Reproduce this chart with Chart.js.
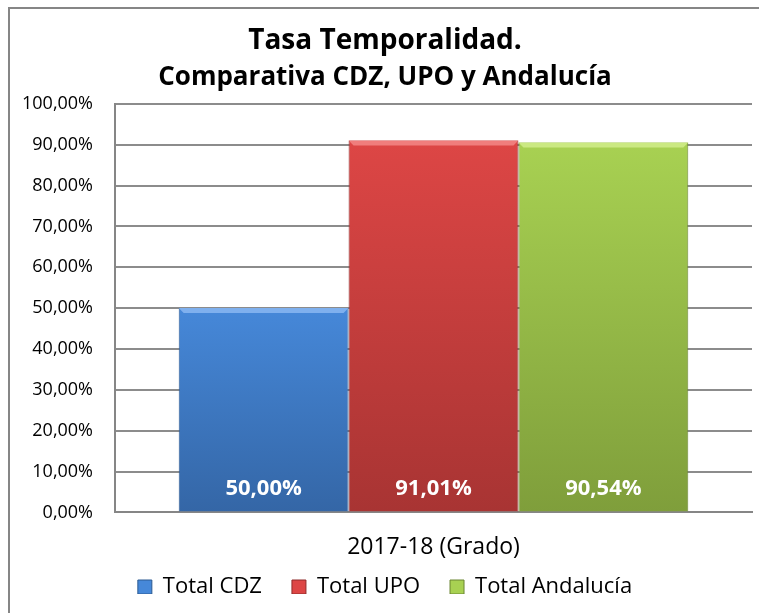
<!DOCTYPE html>
<html>
<head>
<meta charset="utf-8">
<script src="https://cdn.jsdelivr.net/npm/chart.js@4.4.1/dist/chart.umd.min.js"></script>
<style>
  html, body { margin: 0; background: #fff; overflow: hidden; }
  #chart { display: block; }
</style>
</head>
<body>
<canvas id="chart" width="759" height="613"></canvas>
<script>
const categories = ["2017-18 (Grado)"];
const seriesNames = ["Total CDZ", "Total UPO", "Total Andalucía"];
const seriesValues = [[50.00], [91.01], [90.54]];
const tickValues = [0, 10, 20, 30, 40, 50, 60, 70, 80, 90, 100];

const topColors = ["#4688d9", "#dd4645", "#a8d152"];
const bottomColors = ["#3466a6", "#a83433", "#7f9e3b"];
const edgeColors = ["#2c5a92", "#8f2b2a", "#6b8632"];
const bevelColors = ["#7fb0ee", "#f07d7c", "#cbe982"];

const FONT = "'Open Sans', 'Noto Sans', sans-serif";

const fmt = (v) => v.toFixed(2).replace(".", ",") + "%";

const barFill = (i) => (ctx) => {
  const chart = ctx.chart;
  if (ctx.type !== "data" || !chart.chartArea) return topColors[i];
  const y = chart.scales.y;
  const g = chart.ctx.createLinearGradient(0, y.getPixelForValue(ctx.raw), 0, y.getPixelForValue(0));
  g.addColorStop(0, topColors[i]);
  g.addColorStop(1, bottomColors[i]);
  return g;
};

// outer chart frame (left and top edges only, as in the picture)
const frame = {
  id: "frame",
  beforeDraw(chart) {
    const c = chart.ctx;
    c.save();
    c.strokeStyle = "#868686";
    c.lineWidth = 2;
    c.beginPath();
    c.moveTo(9, chart.height);
    c.lineTo(9, 8);
    c.lineTo(chart.width, 8);
    c.stroke();
    c.restore();
  }
};

// legend sits a bit closer to the category label
const legendNudge = {
  id: "legendNudge",
  afterLayout(chart) {
    chart.legend.top -= 36;
    chart.legend.bottom -= 36;
  }
};

const barDecor = {
  id: "barDecor",
  afterDatasetsDraw(chart) {
    const c = chart.ctx;
    chart.data.datasets.forEach((ds, i) => {
      chart.getDatasetMeta(i).data.forEach((bar, j) => {
        const left = bar.x - bar.width / 2;
        const right = bar.x + bar.width / 2;
        c.save();
        c.fillStyle = bevelColors[i];
        c.beginPath();
        c.moveTo(left, bar.y);
        c.lineTo(right, bar.y);
        c.lineTo(right - 5, bar.y + 5);
        c.lineTo(left + 5, bar.y + 5);
        c.closePath();
        c.fill();
        c.fillStyle = "#ffffff";
        c.font = "bold 22px " + FONT;
        c.textAlign = "center";
        c.textBaseline = "middle";
        c.fillText(fmt(ds.data[j]), bar.x, bar.base - 23);
        c.restore();
      });
    });
  }
};

new Chart(document.getElementById("chart"), {
  type: "bar",
  data: {
    labels: categories,
    datasets: seriesNames.map((name, i) => ({
      label: name,
      data: seriesValues[i],
      backgroundColor: barFill(i),
      borderColor: edgeColors[i],
      borderWidth: 1,
      categoryPercentage: 0.8,
      barPercentage: 1.0
    }))
  },
  options: {
    responsive: false,
    animation: false,
    layout: { padding: { left: 18, right: 7, top: 0, bottom: -17 } },
    plugins: {
      title: {
        display: true,
        text: "Tasa Temporalidad.",
        color: "#000",
        font: { family: FONT, size: 28, weight: "bold" },
        padding: { top: 24, bottom: 4 }
      },
      subtitle: {
        display: true,
        text: "Comparativa CDZ, UPO y Andalucía",
        color: "#000",
        font: { family: FONT, size: 26, weight: "bold" },
        padding: { top: 0, bottom: 11 }
      },
      legend: {
        position: "bottom",
        maxHeight: 48,
        labels: {
          color: "#000",
          font: { family: FONT, size: 22 },
          boxWidth: 14,
          boxHeight: 14,
          padding: 30,
          generateLabels(chart) {
            return chart.data.datasets.map((ds, i) => ({
              text: ds.label,
              fillStyle: topColors[i],
              strokeStyle: edgeColors[i],
              lineWidth: 1,
              datasetIndex: i
            }));
          }
        }
      },
      tooltip: { enabled: false }
    },
    scales: {
      x: {
        grid: { display: false, drawTicks: false },
        border: { display: true, color: "#868686", width: 2 },
        ticks: { color: "#000", font: { family: FONT, size: 23 }, padding: 21 }
      },
      y: {
        min: 0,
        max: 100,
        afterFit(scale) { scale.width = 97; },
        afterBuildTicks(scale) { scale.ticks = tickValues.map((v) => ({ value: v })); },
        grid: { color: "#8c8c8c", lineWidth: 2, drawTicks: false },
        border: { display: true, color: "#868686", width: 2 },
        ticks: {
          color: "#000",
          font: { family: FONT, size: 18 },
          padding: 22,
          callback: (v) => fmt(v)
        }
      }
    }
  },
  plugins: [frame, legendNudge, barDecor]
});
</script>
</body>
</html>
